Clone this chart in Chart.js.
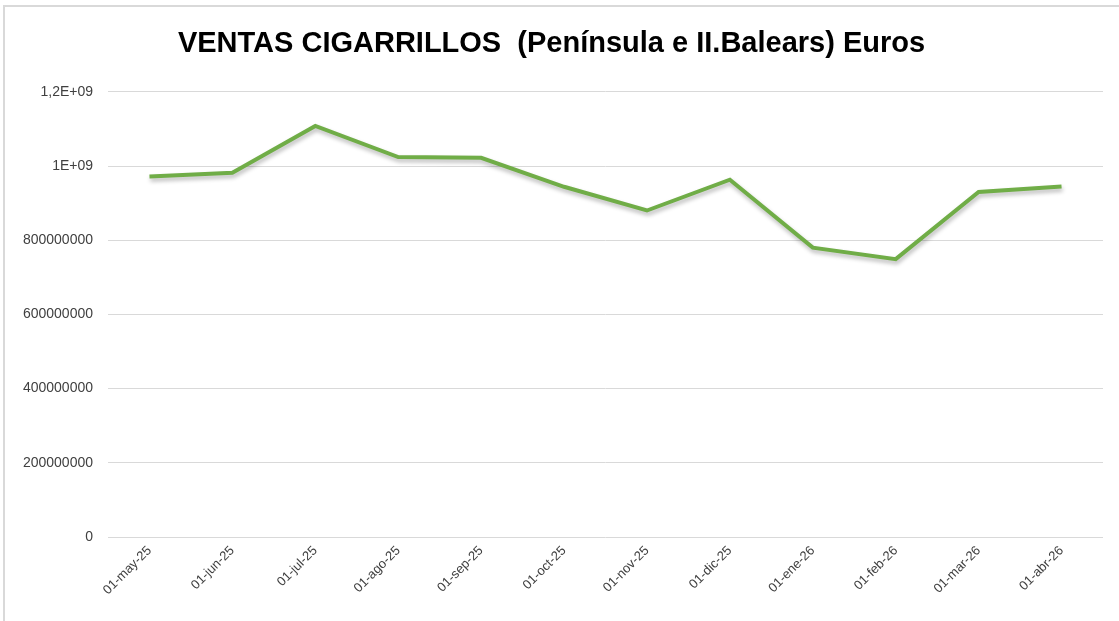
<!DOCTYPE html>
<html>
<head>
<meta charset="utf-8">
<script src="https://cdn.jsdelivr.net/npm/chart.js@4/dist/chart.umd.min.js"></script>
<style>
  html, body { margin: 0; padding: 0; background: #fff; }
  #wrap { position: relative; width: 1119px; height: 621px; }
</style>
</head>
<body>
<div id="wrap"><canvas id="MiGrafica"></canvas></div>
<script>
// datos
const meses = ["01-may-25", "01-jun-25", "01-jul-25", "01-ago-25", "01-sep-25", "01-oct-25",
               "01-nov-25", "01-dic-25", "01-ene-26", "01-feb-26", "01-mar-26", "01-abr-26"];
const ventas = [972000000, 982000000, 1108000000, 1024000000, 1022000000, 944000000,
                880000000, 963000000, 780000000, 749000000, 930000000, 945000000];
const valoresEje = [0, 200000000, 400000000, 600000000, 800000000, 1000000000, 1200000000];
const etiquetasEje = ["0", "200000000", "400000000", "600000000", "800000000", "1E+09", "1,2E+09"];

// sombra de la línea y marco gris
const extras = {
  id: "extras",
  beforeDatasetsDraw(chart) {
    const c = chart.ctx;
    c.save();
    c.shadowColor = "rgba(0,0,0,0.28)";
    c.shadowBlur = 4;
    c.shadowOffsetX = 1;
    c.shadowOffsetY = 3;
  },
  afterDatasetsDraw(chart) {
    chart.ctx.restore();
  },
  afterDraw(chart) {
    const c = chart.ctx;
    c.save();
    c.strokeStyle = "#d9d9d9";
    c.lineWidth = 2;
    c.beginPath();
    c.moveTo(4, 621);
    c.lineTo(4, 6);
    c.lineTo(1119, 6);
    c.stroke();
    c.restore();
  }
};

let miCanvas = document.getElementById("MiGrafica").getContext("2d");

var chart = new Chart(miCanvas, {
  type: "line",
  data: {
    labels: meses,
    datasets: [{
      label: "Ventas",
      data: ventas,
      borderColor: "#70ad47",
      borderWidth: 4,
      pointRadius: 0,
      tension: 0,
      fill: false
    }]
  },
  options: {
    responsive: true,
    maintainAspectRatio: false,
    animation: false,
    layout: { padding: { left: 0, right: 16, top: 0, bottom: 0 } },
    plugins: {
      legend: { display: false },
      tooltip: { enabled: false },
      title: {
        display: true,
        text: "VENTAS CIGARRILLOS  (Península e II.Balears) Euros",
        color: "#000",
        font: { family: "Liberation Sans, Arial", size: 29, weight: "bold" },
        padding: { top: 27, bottom: 30 }
      }
    },
    scales: {
      x: {
        offset: true,
        grid: { display: false, drawTicks: false },
        border: { display: false },
        ticks: {
          color: "#404040",
          font: { family: "Liberation Sans, Arial", size: 13 },
          maxRotation: 45,
          minRotation: 45,
          autoSkip: false,
          padding: 6
        },
        afterFit(scale) { scale.height = 84; }
      },
      y: {
        min: 0,
        max: 1200000000,
        grid: { color: "#d9d9d9", lineWidth: 1, drawTicks: false },
        border: { display: false },
        afterBuildTicks(scale) {
          scale.ticks = valoresEje.map(v => ({ value: v }));
        },
        ticks: {
          color: "#404040",
          font: { family: "Liberation Sans, Arial", size: 14 },
          padding: 15,
          callback(v) {
            const i = valoresEje.indexOf(v);
            return i >= 0 ? etiquetasEje[i] : "";
          }
        },
        afterFit(scale) { scale.width = 108; }
      }
    }
  },
  plugins: [extras]
});
</script>
</body>
</html>
